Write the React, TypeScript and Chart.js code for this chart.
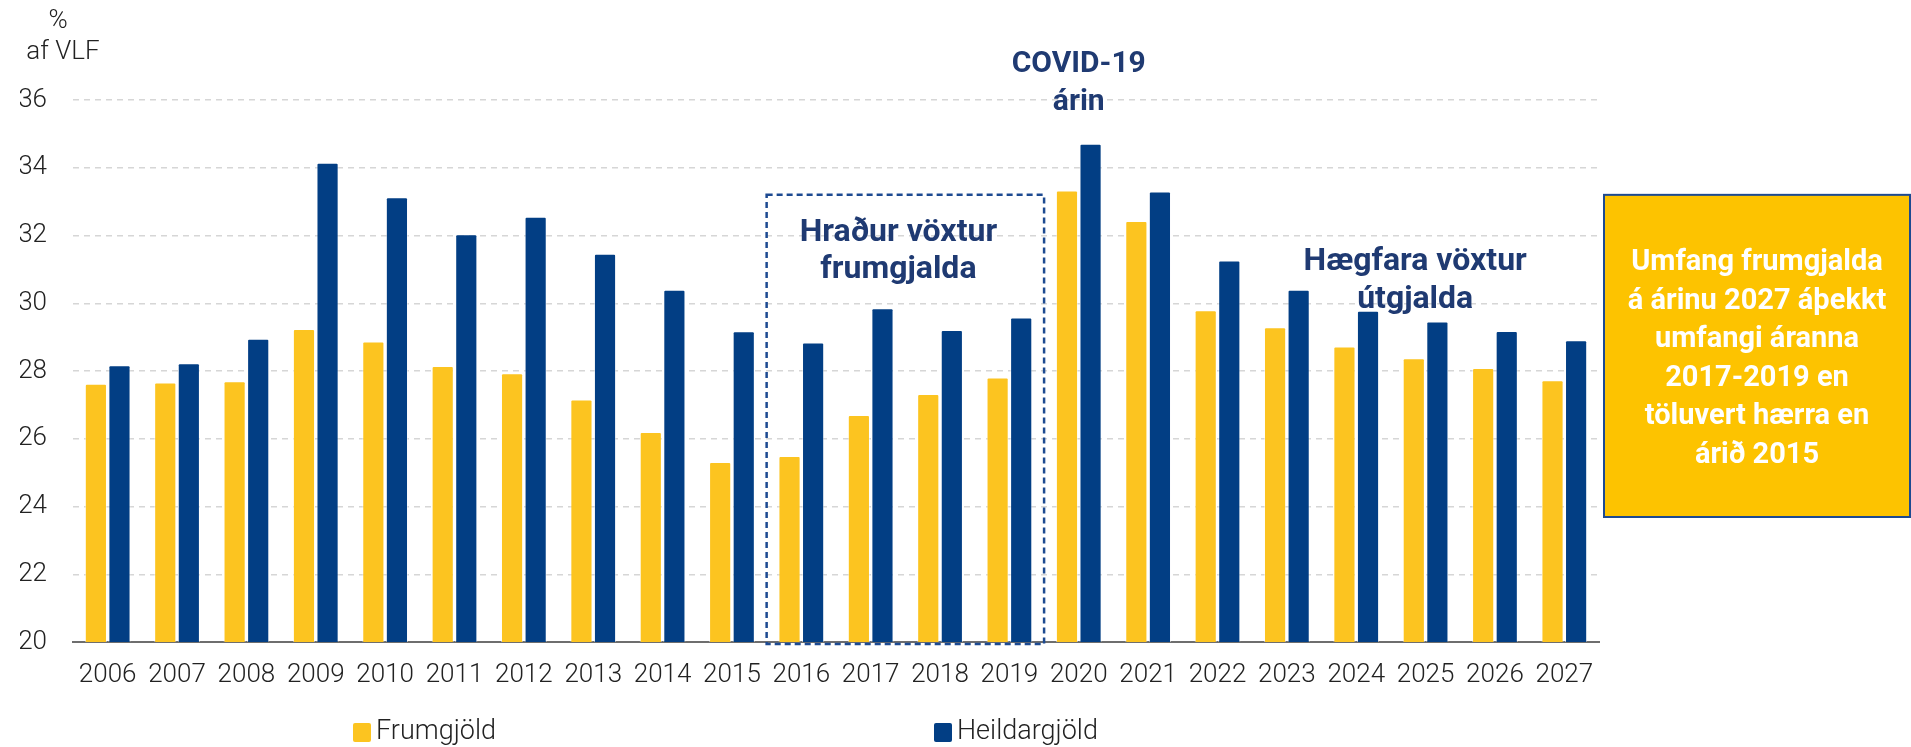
import React, { useEffect, useRef } from 'react';
import { Chart, registerables } from 'chart.js';

Chart.register(...registerables);

const years = ['2006', '2007', '2008', '2009', '2010', '2011', '2012', '2013', '2014', '2015', '2016', '2017', '2018', '2019', '2020', '2021', '2022', '2023', '2024', '2025', '2026', '2027'];
const frumgjold = [27.62, 27.66, 27.7, 29.24, 28.87, 28.15, 27.93, 27.16, 26.2, 25.31, 25.49, 26.7, 27.32, 27.81, 33.33, 32.43, 29.79, 29.29, 28.72, 28.38, 28.09, 27.73];
const heildargjold = [28.17, 28.23, 28.95, 34.15, 33.13, 32.04, 32.55, 31.46, 30.4, 29.17, 28.84, 29.85, 29.21, 29.58, 34.71, 33.3, 31.26, 30.4, 29.78, 29.46, 29.18, 28.91];
const seriesNames = ['Frumgjöld', 'Heildargjöld'];
const yMin = 20;
const yMax = 36;
const yStep = 2;

const axisTitleLines = ['%', 'af VLF'];
const covidLines = ['COVID-19', 'árin'];
const growthLines = ['Hraður vöxtur', 'frumgjalda'];
const slowLines = ['Hægfara vöxtur', 'útgjalda'];
const boxLines = ['Umfang frumgjalda', 'á árinu 2027 áþekkt', 'umfangi áranna', '2017-2019 en', 'töluvert hærra en', 'árið 2015'];

const YELLOW = '#FCC420';
const BLUE = '#023E84';
const NAVY_TEXT = '#1F3A72';
const DASH_BLUE = '#1D4A91';
const FONT = 'Roboto, "Open Sans", sans-serif';

const overlayPlugin = {
  id: 'overlay',
  afterDatasetsDraw(chart: any) {
    const { ctx, chartArea, scales } = chart;
    const x = scales.x;
    const y = scales.y;
    ctx.save();

    // dashed box around 2016-2019
    const bl = x.getPixelForValue(9.5);
    const br = x.getPixelForValue(13.5);
    const bt = y.getPixelForValue(33.2);
    const bb = chartArea.bottom + 2;
    ctx.setLineDash([6, 4]);
    ctx.lineWidth = 2.5;
    ctx.strokeStyle = DASH_BLUE;
    ctx.strokeRect(bl, bt, br - bl, bb - bt);
    ctx.setLineDash([]);

    // annotation texts
    ctx.fillStyle = NAVY_TEXT;
    ctx.textAlign = 'center';
    ctx.textBaseline = 'middle';
    const drawLines = (lines: string[], xi: number, yv: number, gap: number) => {
      const cx = x.getPixelForValue(xi);
      const cy = y.getPixelForValue(yv);
      lines.forEach((l, i) => ctx.fillText(l, cx, cy + i * gap));
    };
    ctx.font = `bold 30px ${FONT}`;
    drawLines(covidLines, 14, 37.06, 38);
    ctx.font = `bold 32px ${FONT}`;
    drawLines(growthLines, 11.4, 32.07, 37);
    drawLines(slowLines, 18.85, 31.22, 38);

    // right callout box
    const rl = chartArea.right + 5;
    const rr = chart.width - 1;
    const rt = y.getPixelForValue(33.2);
    const rb = y.getPixelForValue(23.69);
    ctx.fillStyle = '#FDC300';
    ctx.fillRect(rl, rt, rr - rl, rb - rt);
    ctx.lineWidth = 2;
    ctx.strokeStyle = DASH_BLUE;
    ctx.strokeRect(rl, rt, rr - rl, rb - rt);
    ctx.fillStyle = '#FFFFFF';
    ctx.font = `bold 29px ${FONT}`;
    const bcx = (rl + rr) / 2;
    const firstY = rt + 68;
    boxLines.forEach((l, i) => ctx.fillText(l, bcx, firstY + i * 38.5));

    // y-axis title
    ctx.fillStyle = '#222222';
    ctx.font = `300 26px ${FONT}`;
    ctx.fillText(axisTitleLines[0], 58, 21);
    ctx.fillText(axisTitleLines[1], 63, 52);

    // legend
    const legendX = [353, 934];
    const legendY = 732;
    ctx.font = `300 27px ${FONT}`;
    chart.data.datasets.forEach((ds: any, i: number) => {
      ctx.fillStyle = ds.backgroundColor;
      ctx.beginPath();
      (ctx as any).roundRect(legendX[i], legendY - 9, 18, 19, 2);
      ctx.fill();
      ctx.fillStyle = '#222222';
      ctx.textAlign = 'left';
      ctx.fillText(ds.label, legendX[i] + 23, legendY);
    });

    ctx.restore();
  },
};

export default function App() {
  const canvasRef = useRef<HTMLCanvasElement | null>(null);

  useEffect(() => {
    if (!canvasRef.current) return;
    const chart = new Chart(canvasRef.current, {
      type: 'bar',
      data: {
        labels: years,
        datasets: [
          {
            label: seriesNames[0],
            data: frumgjold,
            backgroundColor: YELLOW,
            borderColor: 'rgba(255,255,255,0.5)',
            borderWidth: 1,
            borderRadius: 2,
            borderSkipped: 'bottom',
            barPercentage: 0.94,
            categoryPercentage: 0.68,
          },
          {
            label: seriesNames[1],
            data: heildargjold,
            backgroundColor: BLUE,
            borderColor: 'rgba(255,255,255,0.5)',
            borderWidth: 1,
            borderRadius: 2,
            borderSkipped: 'bottom',
            barPercentage: 0.94,
            categoryPercentage: 0.68,
          },
        ],
      },
      options: {
        responsive: false,
        animation: false,
        devicePixelRatio: 1,
        layout: { padding: { left: 20, right: 312, top: 100, bottom: 59 } },
        plugins: {
          legend: { display: false },
          tooltip: { enabled: false },
          title: { display: false },
        },
        scales: {
          x: {
            afterFit: (scale: any) => {
              scale.height = 46;
              scale.paddingLeft = 0;
              scale.paddingRight = 0;
            },
            grid: { display: false, drawTicks: false },
            border: { display: true, color: '#6E6E6E', width: 2 },
            ticks: {
              color: '#222222',
              font: { family: FONT, size: 26, weight: '300' as any },
              padding: 18,
              maxRotation: 0,
              autoSkip: false,
            },
          },
          y: {
            min: yMin,
            max: yMax,
            afterFit: (scale: any) => {
              scale.width = 53;
            },
            grid: { color: '#D6D6D6', lineWidth: 1.5, drawTicks: false },
            border: { display: false, dash: [6, 5] },
            ticks: {
              stepSize: yStep,
              color: '#222222',
              font: { family: FONT, size: 26, weight: '300' as any },
              padding: 26,
            },
          },
        },
      },
      plugins: [overlayPlugin],
    });
    return () => chart.destroy();
  }, []);

  return (
    <div style={{ position: 'absolute', left: 0, top: 0, width: 1911, height: 747, background: '#fff' }}>
      <canvas ref={canvasRef} width={1911} height={747} style={{ display: 'block' }} />
    </div>
  );
}
